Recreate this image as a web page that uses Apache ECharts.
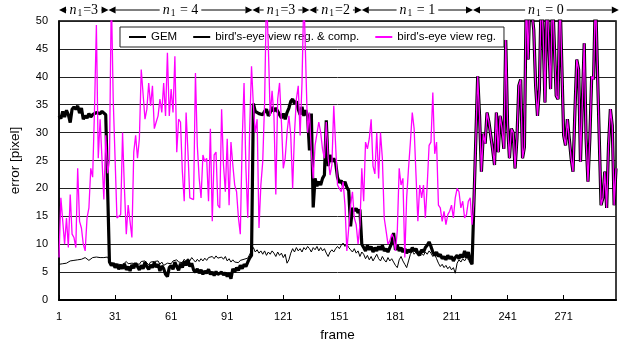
<!DOCTYPE html>
<html><head><meta charset="utf-8">
<script src="https://cdn.jsdelivr.net/npm/echarts@6/dist/echarts.min.js"></script>
<style>html,body{margin:0;padding:0;background:#fff}#c{width:623px;height:347px}</style>
</head><body><div id="c"></div>
<script>
// ---- data ----
const frameCount = 299;
const yTicks = { min: 0, max: 50, step: 5 };

// GEM, frames 1-222
const gemHead = [
6.4,6.6,6.5,6.8,6.6,6.9,7.0,6.8,7.1,7.0,
7.2,7.0,7.3,7.4,7.6,7.3,7.1,7.4,7.6,7.4,
7.7,7.5,7.6,7.8,7.6,7.9,7.7,7.0,6.6,6.9,
6.5,6.8,6.4,6.7,6.3,6.6,6.9,6.5,6.2,6.6,
6.9,6.5,6.8,6.4,6.9,6.6,7.0,6.7,6.3,6.8,
6.5,6.9,6.6,7.0,6.4,6.8,6.2,6.0,6.6,6.9,
6.5,7.0,6.7,7.2,6.8,7.1,6.7,7.3,6.9,7.4,
7.0,7.6,7.2,6.8,7.3,6.9,7.4,7.0,7.5,7.1,
7.6,7.3,7.8,7.4,7.9,7.5,7.2,7.7,7.3,7.8,
7.0,7.4,6.8,7.2,6.8,7.0,6.7,7.1,6.9,7.3,
7.0,7.5,7.6,8.8,9.4,8.6,9.0,8.4,8.8,8.2,
8.8,8.0,8.6,8.2,8.8,8.4,7.8,8.6,8.0,8.4,
7.6,8.2,6.6,7.2,8.4,9.2,8.6,9.4,8.8,9.2,
8.6,9.4,9.0,9.6,9.2,8.6,9.4,9.0,9.6,8.8,
9.4,8.8,9.2,8.4,7.8,8.6,9.0,8.6,9.2,9.6,
9.2,9.8,10.2,9.6,10.0,9.4,9.0,8.6,9.2,8.4,
8.8,7.8,8.6,8.2,7.4,8.0,7.2,7.8,7.0,7.6,
8.2,7.4,7.0,7.8,7.2,6.8,7.6,7.0,7.4,6.8,
6.2,5.8,7.2,7.8,7.0,6.4,5.8,7.0,8.2,8.8,
8.2,8.6,8.0,8.8,8.4,8.0,8.6,8.2,8.8,8.4,
7.8,8.2,7.4,6.6,6.0,6.4,5.8,6.2,5.6,6.0,
5.4,5.8,4.8,6.6,7.2,6.8,7.4,7.0,7.6,7.2,
7.8,6.4
];

// bird's-eye view reg. & comp., frames 1-222
const compHead = [
33,32.5,33.8,32.8,34,33.2,31.8,34.2,34.6,34.2,
34.8,33.5,34.4,32.4,33,32.6,33.4,32.8,33.2,33,
33.6,33.8,33.4,33.8,33.6,33.2,33.0,6.8,6.2,6.6,
5.8,6.4,5.5,6.2,5.6,6.5,5.4,6.0,5.2,6.3,
5.7,6.6,6.0,5.4,6.2,5.6,6.8,6.0,5.5,6.3,
5.8,6.7,5.9,6.4,5.2,6.1,5.6,4.6,4.2,5.8,
6.2,5.5,6.8,6.0,5.3,6.5,5.8,6.9,6.2,7.2,
6.0,6.6,5.4,5.0,5.6,4.8,5.4,4.6,5.2,4.8,
5.5,4.6,5.0,4.4,5.1,4.6,4.3,5.0,4.5,4.9,
4.2,4.8,3.8,5.6,5.0,5.8,5.3,6.2,5.6,6.4,
6.0,6.8,7.5,8.0,35.2,33.8,34.0,33.4,33.6,33.2,
33.8,34.2,33.0,33.6,34.6,33.8,34.4,33.8,34.0,32.6,
33.4,32.4,33.6,34.4,35.6,36.0,35.2,35.6,34.2,33.2,
34.6,33.0,34.0,33.0,26.8,33.4,16.6,21.8,20.4,21.2,
20.6,21.8,22.4,32.2,24.0,26.0,24.8,25.4,24.6,22.0,
21.0,21.4,20.6,21.2,20.2,19.6,13.2,16.5,16.0,16.4,
15.6,16.2,10.0,9.4,8.8,9.8,9.0,9.6,8.6,9.4,
8.8,9.6,9.0,9.8,8.8,9.2,8.6,9.4,10.2,12.0,
9.0,9.8,8.8,9.4,8.6,9.2,8.4,9.0,8.6,9.4,
8.8,9.2,8.4,8.0,9.0,8.6,9.4,9.8,10.4,9.6,
8.6,8.0,8.6,7.8,8.2,7.4,7.8,7.2,8.0,7.4,
7.8,7.0,7.6,8.0,7.4,8.2,7.6,8.8,7.6,8.6,
7.0,6.4
];

// bird's-eye view reg., frames 1-222
const regHead = [
7.6,18.3,18.6,10,14.7,9.4,18.9,11.8,11.2,9.4,
23.6,14.1,12.9,10,8.8,14.7,16.5,23.6,22,34.2,
49.3,25.4,32.4,32.4,18,29.5,22.7,25,55,36,
25.4,14.7,14.7,15.3,30,20,11.8,17,17,11.2,
26.5,29.5,25.4,28.9,41.3,41.3,32.4,34.2,38.9,34.8,
38.4,30.7,31.9,33,36,33.6,38.9,33,44.3,33,
37.8,33.6,43.7,26.5,32.4,31.9,23,17.7,33.6,26.5,
18.3,18.3,18,40.7,27.7,21.8,18.3,26,24.8,25.4,
17.7,30.7,14.1,26,26.5,17,16.5,34.2,24.2,19.4,
28.9,17,28.3,24.2,20.6,19.4,14.7,11.8,28.3,38.9,
23.6,14.7,30.7,41.9,34.8,30,32.4,12.9,20.6,24.8,
35.4,55,45.4,33,37.5,33,18.9,36,38.9,31.9,
23.6,25.4,30,33,29.5,20,30,36,38.4,29.5,
38.9,55,55,30,33.6,26.5,21.8,27.7,27.5,31.9,
30,27,25.4,31.9,25.4,22.4,24.2,34.8,27.7,20.6,
20,19.4,21.2,17,8.8,8.8,17,19.4,14.7,13.5,
10,13.5,23.6,17.7,28.3,27.1,28.9,32.4,24,22.6,
30,21.8,30,25.4,14.7,12.4,10,10.6,11.8,11.2,
8.8,12.4,23.6,20.6,21.8,7.6,18.3,23.6,28.3,33.6,
30.7,22.4,14.1,20.6,18.3,20.6,14.7,20.6,27.7,28.3,
37.2,26.2,28.3,17,16.5,14.1,15.9,13.5,15.3,15.9,
17,14.7,18.3,20,19.4,16.5,17.7,14.7,15.3,17.7,
18.3,13.5
];

// frames 223-299: all three methods coincide (n1 = 0)
const sharedTail = [
17.6,28.9,40.1,33,23,29.8,28,33.6,
31.9,31.9,27,24.2,33.6,26.5,33,30.7,27.1,46.6,
31.3,25.4,30.7,30,23.6,28.9,38.4,39.5,25.4,27.4,
55,43.1,55,55,48.4,38.4,33,37.8,55,48,
35.4,55,55,37.8,55,55,36.6,36,55,55,
29.5,27.7,32.4,32.4,25.4,23,33.6,43.1,41.3,24.8,
35.4,46,28.9,21.2,28.9,40.1,39.5,55,55,29.5,
17,18.3,23,16.5,27.7,34.2,31.3,17,23.6
];

// n1 segments (frame boundaries) and their labels
const segBounds = [1, 27.5, 104.5, 135, 163, 222.5, 300.5];
const segLabels = ['=3', ' = 4', '=3', '=2', ' = 1', ' = 0'];

const seriesNames = ['GEM', "bird's-eye view reg. & comp.", "bird's-eye view reg."];

// ---- build ----
const frames = [];
for (let i = 1; i <= frameCount; i++) frames.push(String(i));
const gem = gemHead.concat(sharedTail);
const comp = compHead.concat(sharedTail);
const reg = regHead.concat(sharedTail);

const FONT = "'Liberation Sans', Arial, sans-serif";
const chart = echarts.init(document.getElementById('c'), null, { renderer: 'canvas' });
chart.setOption({
  animation: false,
  backgroundColor: '#fff',
  grid: { left: 59, right: 7, top: 21, bottom: 44, show: true, borderColor: '#000', borderWidth: 1.5, backgroundColor: 'transparent' },
  legend: {
    left: 120, top: 27, padding: [4, 8, 4, 8], itemGap: 15, itemWidth: 17, itemHeight: 10,
    backgroundColor: '#fff', borderColor: '#222', borderWidth: 1,
    itemStyle: { opacity: 0 },
    textStyle: { fontFamily: FONT, fontSize: 11.5, color: '#000' },
    data: seriesNames
  },
  xAxis: {
    type: 'category', data: frames, boundaryGap: false,
    name: 'frame', nameLocation: 'middle', nameGap: 28,
    nameTextStyle: { fontFamily: FONT, fontSize: 13.5, color: '#000' },
    axisLine: { lineStyle: { color: '#000', width: 2 } },
    axisTick: { inside: true, length: 5, interval: 29, lineStyle: { color: '#000' } },
    axisLabel: { interval: 29, fontFamily: FONT, fontSize: 11, color: '#000', margin: 11 },
    splitLine: { show: false }
  },
  yAxis: {
    type: 'value', min: yTicks.min, max: yTicks.max, interval: yTicks.step,
    name: 'error [pixel]', nameLocation: 'middle', nameGap: 37,
    nameTextStyle: { fontFamily: FONT, fontSize: 13.5, color: '#000' },
    axisLine: { show: true, lineStyle: { color: '#000', width: 1.5 } },
    axisTick: { show: false },
    axisLabel: { fontFamily: FONT, fontSize: 11, color: '#000', margin: 11 },
    splitLine: { lineStyle: { color: '#222', width: 1 } }
  },
  series: [
    { name: seriesNames[0], type: 'line', data: gem, symbol: 'none', z: 2,
      lineStyle: { color: '#000', width: 1 }, itemStyle: { color: '#000' } },
    { name: seriesNames[1], type: 'line', data: comp, symbol: 'none', z: 3,
      lineStyle: { color: '#000', width: 3.2 }, itemStyle: { color: '#000' } },
    { name: seriesNames[2], type: 'line', data: reg, symbol: 'none', z: 4,
      lineStyle: { color: '#ff00ff', width: 1.3 }, itemStyle: { color: '#ff00ff' } }
  ]
});

// n1 annotation arrows above the plot, placed through the axis scale
const p0 = chart.convertToPixel({ xAxisIndex: 0 }, 0);
const p1 = chart.convertToPixel({ xAxisIndex: 0 }, 1);
const step = p1 - p0;
const fx = f => p0 + (f - 1) * step;
const yTop = chart.convertToPixel({ yAxisIndex: 0 }, yTicks.max);
const ay = yTop - 11;
const g = [];
const AL = 7, AH = 3.5;
for (let i = 0; i < segLabels.length; i++) {
  const xa = fx(segBounds[i]), xb = fx(segBounds[i + 1]);
  g.push({ type: 'line', shape: { x1: xa + AL, y1: ay, x2: xb - AL, y2: ay }, style: { stroke: '#000', lineWidth: 1 }, z: 10 });
  g.push({ type: 'polygon', shape: { points: [[xa, ay], [xa + AL, ay - AH], [xa + AL, ay + AH]] }, style: { fill: '#000' }, z: 10 });
  g.push({ type: 'polygon', shape: { points: [[xb, ay], [xb - AL, ay - AH], [xb - AL, ay + AH]] }, style: { fill: '#000' }, z: 10 });
  g.push({ type: 'text', x: (xa + xb) / 2, y: ay, z: 11,
    style: {
      text: '{i|n}{s|1}{t|' + segLabels[i] + '}',
      align: 'center', verticalAlign: 'middle',
      backgroundColor: '#fff', padding: [0, 3, 0, 3],
      rich: {
        i: { fontFamily: "'Liberation Serif', 'Times New Roman', serif", fontStyle: 'italic', fontSize: 14, lineHeight: 16, verticalAlign: 'middle', fill: '#000' },
        s: { fontFamily: "'Liberation Serif', 'Times New Roman', serif", fontSize: 9.5, lineHeight: 10, verticalAlign: 'bottom', fill: '#000', padding: [0, 1, 0, 1] },
        t: { fontFamily: "'Liberation Serif', 'Times New Roman', serif", fontSize: 14, lineHeight: 16, verticalAlign: 'middle', fill: '#000' }
      }
    }
  });
}
chart.setOption({ graphic: g });
</script>
</body></html>
